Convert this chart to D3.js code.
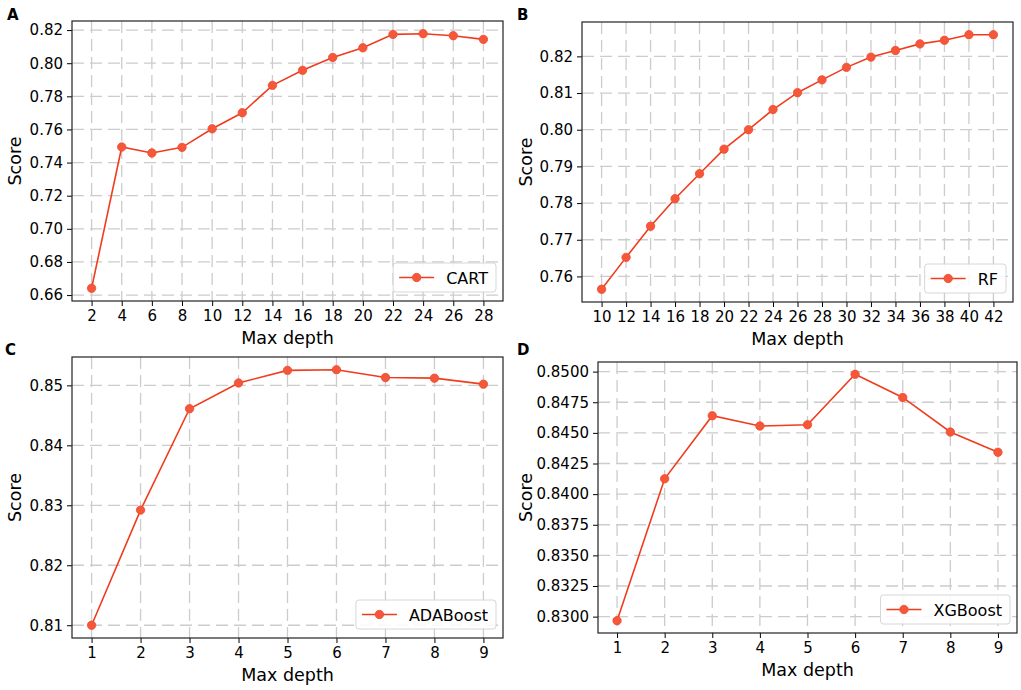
<!DOCTYPE html>
<html>
<head>
<meta charset="utf-8">
<script src="https://cdn.jsdelivr.net/npm/d3@7"></script>
<style>
  body { margin: 0; background: #fff; }
  svg { display: block; font-family: "DejaVu Sans", sans-serif; }
</style>
</head>
<body>
<svg id="chart" width="1021" height="690"></svg>
<script>
// ---- data ----
const cartDepth = [2,4,6,8,10,12,14,16,18,20,22,24,26,28];
const cartScore = [0.6641,0.7494,0.7458,0.7492,0.7604,0.7701,0.7866,0.7957,0.8035,0.8093,0.8174,0.8178,0.8166,0.8144];
const cartYTicks = [0.66,0.68,0.70,0.72,0.74,0.76,0.78,0.80,0.82];

const rfDepth = [10,12,14,16,18,20,22,24,26,28,30,32,34,36,38,40,42];
const rfScore = [0.7565,0.7652,0.7737,0.7812,0.7880,0.7947,0.8000,0.8055,0.8101,0.8136,0.8170,0.8198,0.8216,0.8234,0.8244,0.8259,0.8259];
const rfYTicks = [0.76,0.77,0.78,0.79,0.80,0.81,0.82];

const adaDepth = [1,2,3,4,5,6,7,8,9];
const adaScore = [0.8100,0.8292,0.8461,0.8504,0.8525,0.8526,0.8513,0.8512,0.8502];
const adaYTicks = [0.81,0.82,0.83,0.84,0.85];

const xgbDepth = [1,2,3,4,5,6,7,8,9];
const xgbScore = [0.82967,0.84125,0.84640,0.84556,0.84566,0.84978,0.84789,0.84507,0.84342];
const xgbYTicks = [0.8300,0.8325,0.8350,0.8375,0.8400,0.8425,0.8450,0.8475,0.8500];

const panels = [
  {letter:"A", name:"CART", x:cartDepth, y:cartScore, yTicks:cartYTicks, fmt:".2f",
   box:{l:72,t:21,r:503,b:301}, lx:7, ly:20, sx:21},
  {letter:"B", name:"RF", x:rfDepth, y:rfScore, yTicks:rfYTicks, fmt:".2f",
   box:{l:582,t:22,r:1013,b:302}, lx:517, ly:20, sx:532},
  {letter:"C", name:"ADABoost", x:adaDepth, y:adaScore, yTicks:adaYTicks, fmt:".2f",
   box:{l:72,t:357,r:503,b:638}, lx:5, ly:355, sx:21},
  {letter:"D", name:"XGBoost", x:xgbDepth, y:xgbScore, yTicks:xgbYTicks, fmt:".4f",
   box:{l:598,t:362,r:1017,b:633}, lx:517, ly:355, sx:532}
];

const lineColor = "#f03c1e";
const markerFill = "#f5573a";
const gridColor = "#cccccc";

const svg = d3.select("#chart");

function padExtent(arr) {
  const [lo, hi] = d3.extent(arr);
  const p = (hi - lo) * 0.05;
  return [lo - p, hi + p];
}

panels.forEach(P => {
  const {l,t,r,b} = P.box;
  const xs = d3.scaleLinear().domain(padExtent(P.x)).range([l, r]);
  const ys = d3.scaleLinear().domain(padExtent(P.y)).range([b, t]);
  const g = svg.append("g");

  // grid
  g.append("g").selectAll("line.h").data(P.yTicks).join("line")
    .attr("x1", l).attr("x2", r)
    .attr("y1", d => ys(d)).attr("y2", d => ys(d))
    .attr("stroke", gridColor).attr("stroke-width", 1.3)
    .attr("stroke-dasharray", "12,6");
  g.append("g").selectAll("line.v").data(P.x).join("line")
    .attr("x1", d => xs(d)).attr("x2", d => xs(d))
    .attr("y1", t).attr("y2", b)
    .attr("stroke", gridColor).attr("stroke-width", 1.3)
    .attr("stroke-dasharray", "12,6");

  // axes
  const xAxis = d3.axisBottom(xs).tickValues(P.x).tickFormat(d3.format("d"))
    .tickSize(5).tickPadding(4);
  const yAxis = d3.axisLeft(ys).tickValues(P.yTicks).tickFormat(d3.format(P.fmt))
    .tickSize(5).tickPadding(4);
  const gx = g.append("g").attr("transform", `translate(0,${b})`).call(xAxis);
  const gy = g.append("g").attr("transform", `translate(${l},0)`).call(yAxis);
  [gx, gy].forEach(a => {
    a.select(".domain").remove();
    a.selectAll("text").attr("font-size", 15).attr("fill", "#000")
      .attr("font-family", "DejaVu Sans, sans-serif");
    a.selectAll("line").attr("stroke", "#000").attr("stroke-width", 1);
  });

  // line + markers
  const pts = P.x.map((d,i) => [d, P.y[i]]);
  g.append("path").datum(pts)
    .attr("fill", "none").attr("stroke", lineColor).attr("stroke-width", 1.6)
    .attr("d", d3.line().x(d => xs(d[0])).y(d => ys(d[1])));
  g.append("g").selectAll("circle").data(pts).join("circle")
    .attr("cx", d => xs(d[0])).attr("cy", d => ys(d[1])).attr("r", 4.2)
    .attr("fill", markerFill).attr("stroke", "#f04a2c").attr("stroke-width", 0.8);

  // frame
  g.append("rect").attr("x", l).attr("y", t).attr("width", r - l).attr("height", b - t)
    .attr("fill", "none").attr("stroke", "#222").attr("stroke-width", 1.2);

  // legend
  const lg = g.append("g");
  const txt = lg.append("text").text(P.name).attr("font-size", 16).attr("fill", "#000");
  const tw = txt.node().getComputedTextLength();
  const bw = 6 + 35 + 12 + tw + 8, bh = 29;
  const bx = r - 7 - bw, by = b - 9 - bh;
  lg.insert("rect", "text").attr("x", bx).attr("y", by).attr("width", bw).attr("height", bh)
    .attr("rx", 3).attr("fill", "#fff").attr("fill-opacity", 0.85)
    .attr("stroke", "#d6d6d6").attr("stroke-width", 1);
  lg.append("line").attr("x1", bx + 6).attr("x2", bx + 41)
    .attr("y1", by + bh/2).attr("y2", by + bh/2)
    .attr("stroke", lineColor).attr("stroke-width", 1.6);
  lg.append("circle").attr("cx", bx + 23.5).attr("cy", by + bh/2).attr("r", 4.2)
    .attr("fill", markerFill).attr("stroke", "#f04a2c").attr("stroke-width", 0.8);
  txt.attr("x", bx + 53).attr("y", by + bh/2 + 6);

  // axis labels
  g.append("text").text("Max depth").attr("x", (l + r) / 2).attr("y", b + 43)
    .attr("text-anchor", "middle").attr("font-size", 17.5).attr("fill", "#000");
  g.append("text").text("Score")
    .attr("transform", `translate(${P.sx},${(t + b) / 2}) rotate(-90)`)
    .attr("text-anchor", "middle").attr("font-size", 17.5).attr("fill", "#000");

  // panel letter
  g.append("text").text(P.letter).attr("x", P.lx).attr("y", P.ly)
    .attr("font-size", 15).attr("font-weight", "bold").attr("fill", "#000");
});
</script>
</body>
</html>
